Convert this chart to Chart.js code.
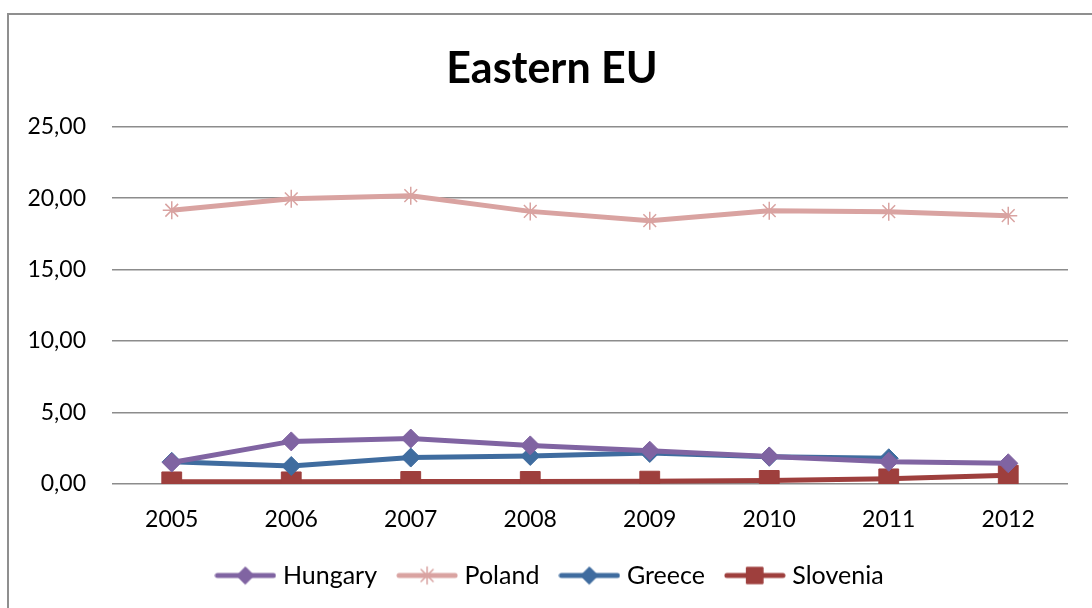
<!DOCTYPE html>
<html>
<head>
<meta charset="utf-8">
<script src="https://cdn.jsdelivr.net/npm/chart.js@4/dist/chart.umd.min.js"></script>
<style>
  html, body { margin: 0; padding: 0; background: #fff; }
  body { width: 1092px; height: 608px; overflow: hidden; position: relative; }
  #frame { position: absolute; left: 7px; top: 13px; width: 1200px; height: 700px;
           border-left: 2px solid #8f8f8f; border-top: 2px solid #8f8f8f; box-sizing: border-box; }
  #wrap { position: absolute; left: 0; top: 0; width: 1092px; height: 608px; }
</style>
</head>
<body>
<div id="frame"></div>
<div id="wrap"><canvas id="c" width="1092" height="608"></canvas></div>
<script>
const categories = ['2005', '2006', '2007', '2008', '2009', '2010', '2011', '2012'];
const hungary  = [1.50, 2.98, 3.18, 2.70, 2.33, 1.93, 1.56, 1.45];
const poland   = [19.15, 19.95, 20.17, 19.07, 18.42, 19.12, 19.05, 18.77];
const greece   = [1.55, 1.26, 1.85, 1.96, 2.17, 1.90, 1.80, null];
const slovenia = [0.15, 0.15, 0.18, 0.18, 0.20, 0.25, 0.36, 0.62];
const yTicks   = [0, 5, 10, 15, 20, 25];

const FONT = 'Lato, "Open Sans", sans-serif';

function legendIcon(color, style, r) {
  const cv = document.createElement('canvas');
  cv.width = 62; cv.height = 24;
  const g = cv.getContext('2d');
  g.strokeStyle = color; g.fillStyle = color; g.lineWidth = 5; g.lineCap = 'round';
  g.beginPath(); g.moveTo(3, 12); g.lineTo(59, 12); g.stroke();
  g.lineWidth = style === 'star' ? 1.5 : 1;
  Chart.helpers.drawPoint(g, { pointStyle: style, radius: r, borderWidth: g.lineWidth }, 31, 12);
  if (style !== 'star') { g.fill(); }
  return cv;
}

const defs = [
  { label: 'Hungary',  data: hungary,  color: '#8064A2', style: 'rectRot', r: 9.5 },
  { label: 'Poland',   data: poland,   color: '#D9A3A1', style: 'star',    r: 9 },
  { label: 'Greece',   data: greece,   color: '#3F6C9F', style: 'rectRot', r: 9.5 },
  { label: 'Slovenia', data: slovenia, color: '#9E3F3D', style: 'rect',    r: 14 }
];

const datasets = defs.map(d => ({
  label: d.label,
  data: d.data,
  borderColor: d.color,
  backgroundColor: d.color,
  borderWidth: 5,
  pointStyle: d.style,
  pointRadius: d.r,
  pointHoverRadius: d.r,
  pointBorderColor: d.color,
  pointBackgroundColor: d.color,
  pointBorderWidth: d.style === 'star' ? 1.5 : 1,
  tension: 0,
  spanGaps: false
}));

const icons = defs.map(d => legendIcon(d.color, d.style, d.style === 'rect' ? 11.5 : 8.5));

// Center title and legend over the whole chart frame (which starts at x=8)
const shiftBlocks = {
  id: 'shiftBlocks',
  afterLayout(chart) {
    if (chart.titleBlock) chart.titleBlock.left += 36;
    if (chart.legend) chart.legend.left += 36;
  }
};

new Chart(document.getElementById('c'), {
  type: 'line',
  data: { labels: categories, datasets },
  plugins: [shiftBlocks],
  options: {
    responsive: false,
    animation: false,
    layout: { padding: { left: 0, right: 24, top: 14, bottom: 10 } },
    plugins: {
      title: {
        display: true,
        text: 'Eastern EU',
        color: '#000',
        font: { family: FONT, size: 43, weight: 'bold' },
        padding: { top: 29, bottom: 32 }
      },
      legend: {
        position: 'bottom',
        labels: {
          color: '#000',
          font: { family: FONT, size: 25 },
          usePointStyle: true,
          pointStyleWidth: 50,
          boxHeight: 20,
          padding: 25,
          generateLabels(chart) {
            return defs.map((d, i) => ({
              text: d.label,
              pointStyle: icons[i],
              fillStyle: d.color,
              strokeStyle: d.color,
              lineWidth: 0,
              hidden: false,
              datasetIndex: i
            }));
          }
        }
      },
      tooltip: { enabled: false }
    },
    scales: {
      x: {
        offset: true,
        grid: { display: false },
        border: { display: false },
        ticks: { color: '#000', font: { family: FONT, size: 23 }, padding: 14, maxRotation: 0 },
        afterFit(s) { s.height = 54; }
      },
      y: {
        min: 0, max: 25,
        afterBuildTicks(s) { s.ticks = yTicks.map(v => ({ value: v })); },
        grid: { color: '#8c8c8c', lineWidth: 1.5, drawTicks: false },
        border: { display: false },
        ticks: {
          color: '#000',
          font: { family: FONT, size: 23 },
          padding: 26,
          callback: v => v.toFixed(2).replace('.', ',')
        },
        afterFit(s) { s.width = 112; }
      }
    }
  }
});
</script>
</body>
</html>
